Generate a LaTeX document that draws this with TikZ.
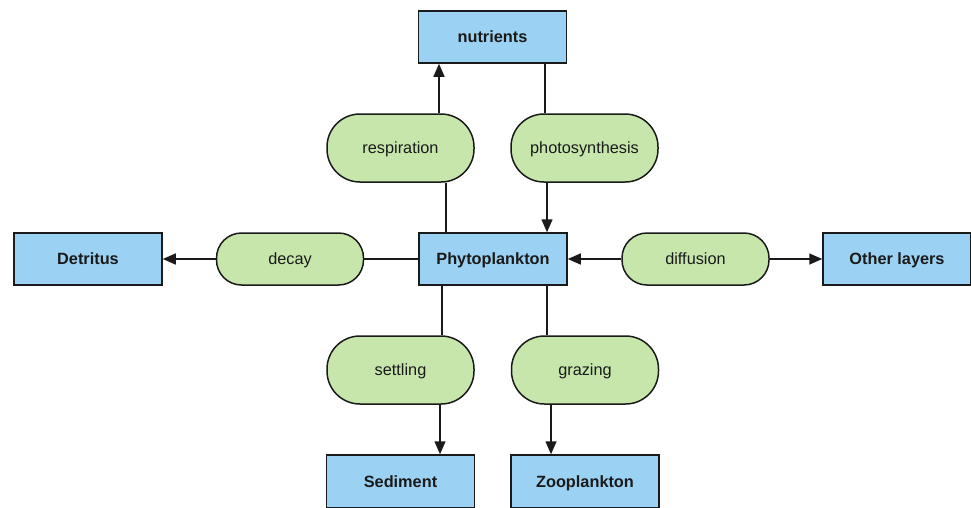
\documentclass[tikz,border=0pt]{standalone}
\usepackage{fontspec}
\setmainfont{Liberation Sans}
\usetikzlibrary{arrows.meta}
\definecolor{boxblue}{RGB}{155,210,243}
\definecolor{pillgreen}{RGB}{199,230,172}
\definecolor{ink}{RGB}{26,26,26}
\begin{document}
\begin{tikzpicture}[x=1pt,y=-1pt,
  every node/.style={font=\fontsize{16.3}{19}\selectfont, text=ink, inner sep=0pt,
    text height=11.7pt, text depth=0pt},
  store/.style={draw=ink, line width=1.5pt, fill=boxblue, minimum width=148pt,
    minimum height=52pt, font=\fontsize{16.3}{19}\selectfont\bfseries},
  procv/.style={draw=ink, line width=1.5pt, fill=pillgreen, minimum width=147pt,
    minimum height=68pt, rounded corners=33pt},
  proch/.style={draw=ink, line width=1.5pt, fill=pillgreen, minimum width=147pt,
    minimum height=52pt, rounded corners=25pt},
  link/.style={draw=ink, line width=1.5pt},
  flow/.style={link, -{Triangle[length=13pt,width=11pt]}}]
\useasboundingbox (0,0) rectangle (971,507);

% state variables
\node[store] (nutr) at (492.5,37) {nutrients};
\node[store] (phyto) at (493,259) {Phytoplankton};
\node[store] (detr) at (88,259) {Detritus};
\node[store] (other) at (897,259) {Other layers};
\node[store, minimum height=53pt] (sed) at (400.5,481.5) {Sediment};
\node[store, minimum height=53pt] (zoo) at (585,481.5) {Zooplankton};

% processes
\node[procv] (resp) at (400.5,148) {respiration};
\node[procv] (photo) at (584.5,148) {photosynthesis};
\node[proch] (decay) at (290,259) {decay};
\node[proch] (diff) at (695.5,259) {diffusion};
\node[procv] (settle) at (400.5,370) {settling};
\node[procv] (graze) at (585,370) {grazing};

% upper fluxes
\draw[flow] ([xshift=38.5pt]resp.north) -- ([xshift=38.5pt]resp.north |- nutr.south);
\draw[link] ([xshift=-39.5pt]photo.north) -- ([xshift=-39.5pt]photo.north |- nutr.south);
\draw[flow] ([xshift=-37.5pt]photo.south) -- ([xshift=-37.5pt]photo.south |- phyto.north);
\draw[link] ([xshift=45.5pt]resp.south) -- ([xshift=45.5pt]resp.south |- phyto.north);

% horizontal fluxes
\draw[flow] (decay.west) -- (detr.east);
\draw[link] (decay.east) -- (phyto.west);
\draw[flow] (diff.west) -- (phyto.east);
\draw[flow] (diff.east) -- (other.west);

% lower fluxes
\draw[link] ([xshift=41.5pt]settle.north) -- ([xshift=41.5pt]settle.north |- phyto.south);
\draw[flow] ([xshift=39.5pt]settle.south) -- ([xshift=39.5pt]settle.south |- sed.north);
\draw[link] ([xshift=-38pt]graze.north) -- ([xshift=-38pt]graze.north |- phyto.south);
\draw[flow] ([xshift=-34pt]graze.south) -- ([xshift=-34pt]graze.south |- zoo.north);
\end{tikzpicture}
\end{document}
